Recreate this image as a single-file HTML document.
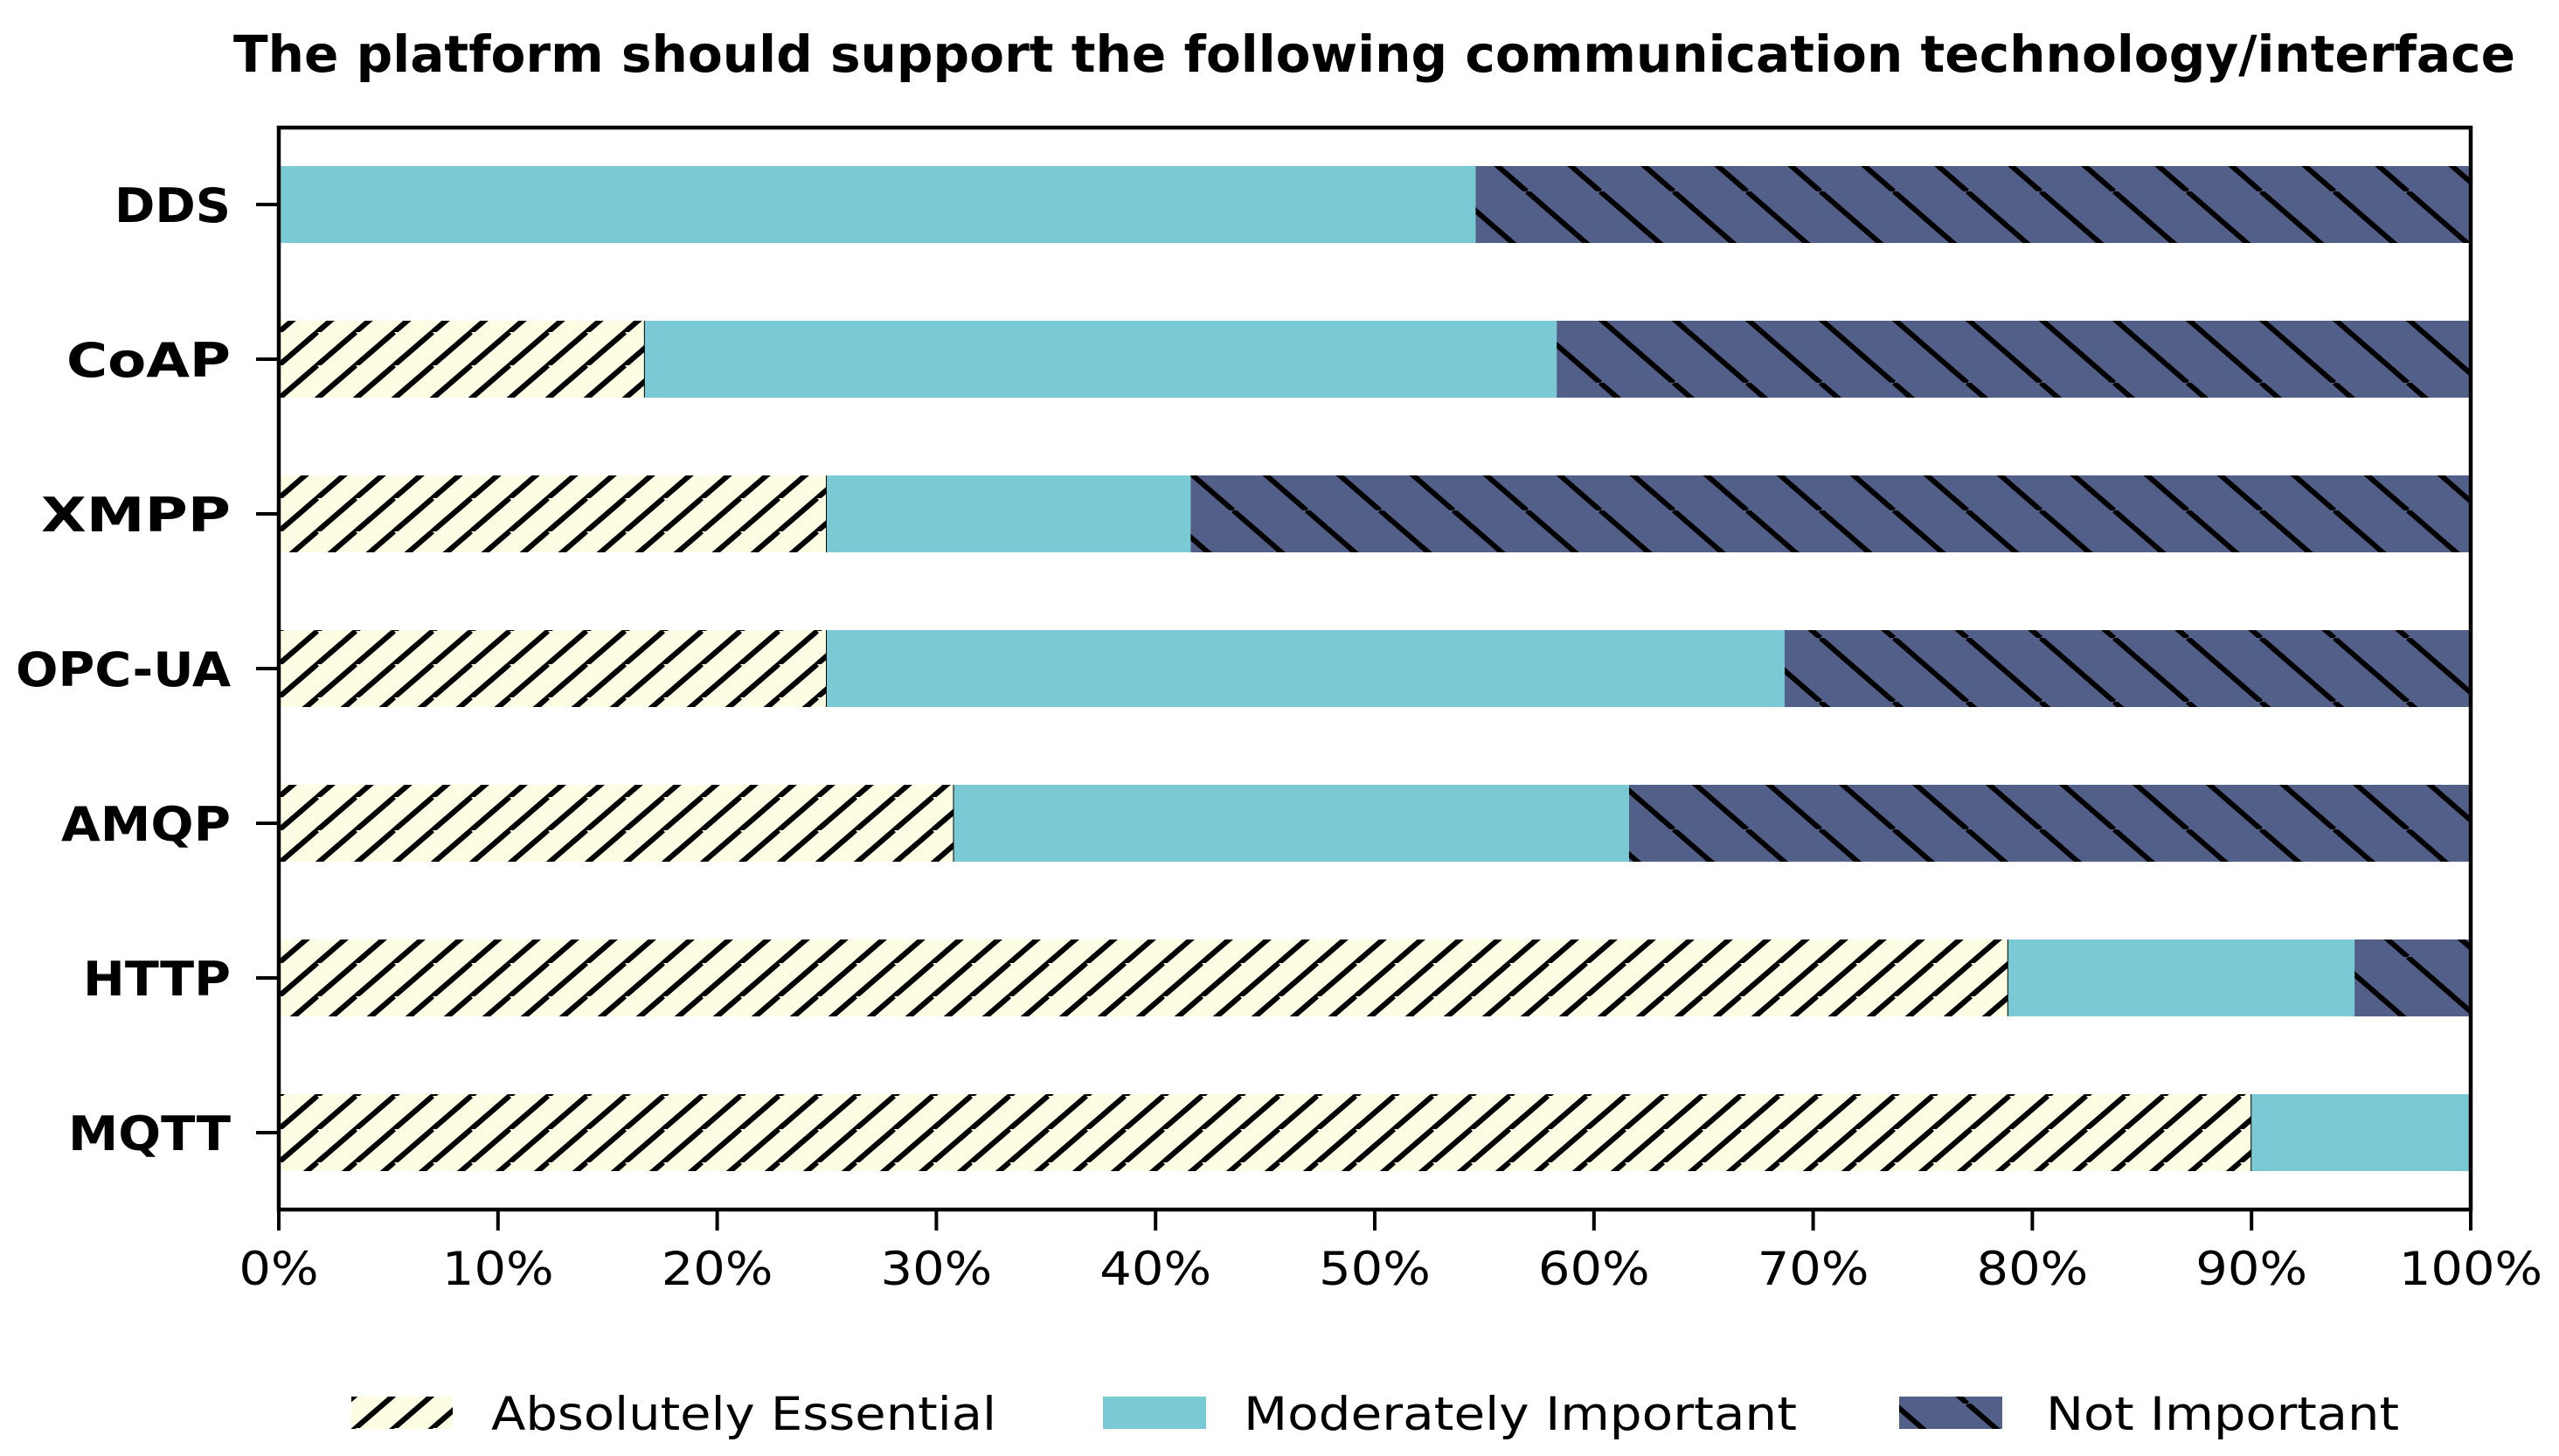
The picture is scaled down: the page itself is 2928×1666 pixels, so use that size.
<!DOCTYPE html>
<html><head><meta charset="utf-8">
<style>html,body{margin:0;padding:0;background:#fff;}svg{display:block;}</style>
</head><body>
<svg id="chart" width="2928" height="1666" viewBox="0 0 2928 1666" xmlns="http://www.w3.org/2000/svg" font-family="'DejaVu Sans','Liberation Sans',sans-serif">
<defs>
  <pattern id="hatchFwd" patternUnits="userSpaceOnUse" width="44" height="38" patternTransform="translate(319,0)">
    <rect width="44" height="38" fill="#fdfde3"/>
    <line x1="-44" y1="76" x2="44" y2="0" stroke="#000" stroke-width="6"/>
    <line x1="0" y1="38" x2="44" y2="0" stroke="#000" stroke-width="6"/>
    <line x1="0" y1="76" x2="88" y2="0" stroke="#000" stroke-width="6"/>
    <line x1="-44" y1="38" x2="0" y2="0" stroke="#000" stroke-width="6"/>
  </pattern>
  <pattern id="hatchBack" patternUnits="userSpaceOnUse" width="84" height="73" patternTransform="translate(319,0)">
    <rect width="84" height="73" fill="#525f88"/>
    <line x1="0" y1="0" x2="84" y2="73" stroke="#000" stroke-width="6"/>
    <line x1="-84" y1="0" x2="0" y2="73" stroke="#000" stroke-width="6"/>
    <line x1="84" y1="0" x2="168" y2="73" stroke="#000" stroke-width="6"/>
  </pattern>
</defs>
<text x="267" y="82" font-size="58" font-weight="bold" textLength="2611" lengthAdjust="spacingAndGlyphs">The platform should support the following communication technology/interface</text>
<g id="bars"></g>
<g id="axes"></g>
<g id="legend"></g>
</svg>
<script>
const categories = ["DDS","CoAP","XMPP","OPC-UA","AMQP","HTTP","MQTT"];
const essential = [0, 16.7, 25, 25, 30.8, 78.9, 90];
const moderate = [54.6, 41.6, 16.6, 43.7, 30.8, 15.8, 10];
const notImportant = [45.4, 41.7, 58.4, 31.3, 38.4, 5.3, 0];
const xTicks = [0,10,20,30,40,50,60,70,80,90,100];
const seriesNames = ["Absolutely Essential","Moderately Important","Not Important"];

const NS = "http://www.w3.org/2000/svg";
const L = 319, R = 2827, T = 146, B = 1384;
const xScale = v => L + (R - L) * v / 100;
const step = 177, firstCenter = 234, barH = 88;
const yScale = i => firstCenter + i * step;
function mk(tag, attrs, parent){ const e=document.createElementNS(NS,tag); for(const k in attrs) e.setAttribute(k,attrs[k]); parent.appendChild(e); return e; }
const fills = ["url(#hatchFwd)","#7acad5","url(#hatchBack)"];
const series = [essential, moderate, notImportant];
const gb = document.getElementById('bars');
categories.forEach((c,i)=>{
  let acc = 0;
  series.forEach((s,si)=>{
    const v = s[i];
    if (v > 0) {
      const r = mk('rect',{x:xScale(acc),y:yScale(i)-barH/2,width:xScale(acc+v)-xScale(acc),height:barH,fill:fills[si]},gb);
      
      
      if (si !== 1) {
        const ed = mk('line',{x1:xScale(acc+v),y1:yScale(i)-barH/2,x2:xScale(acc+v),y2:yScale(i)+barH/2,stroke:'#000','stroke-width':2},gb);
        
        
      }
    }
    acc += v;
  });
});
const ga = document.getElementById('axes');
const frame = mk('rect',{x:L,y:T,width:R-L,height:B-T,fill:'none',stroke:'#000','stroke-width':4.5},ga);


const w = ch => ch==='%'?0.95:0.636;
xTicks.forEach(t=>{
  const x = xScale(t);
  const tk = mk('line',{x1:x,y1:B,x2:x,y2:B+24,stroke:'#000','stroke-width':4},ga);
  
  
  const s = t + '%';
  const len = [...s].reduce((a,ch)=>a+w(ch),0)*50*1.15;
  const tx = mk('text',{x:x-len/2,y:1470,'font-size':53,textLength:len,lengthAdjust:'spacingAndGlyphs'},ga);
  tx.textContent = s;
  
  
});
const ylw = {"DDS":133,"CoAP":188,"XMPP":217,"OPC-UA":246,"AMQP":194,"HTTP":169,"MQTT":186};
categories.forEach((c,i)=>{
  const y = yScale(i);
  const tk = mk('line',{x1:L-26,y1:y,x2:L,y2:y,stroke:'#000','stroke-width':4},ga);
  
  
  const tx = mk('text',{x:264-ylw[c],y:y+20,'font-size':54,'font-weight':'bold',textLength:ylw[c],lengthAdjust:'spacingAndGlyphs'},ga);
  tx.textContent = c;
  
  
});
const gl = document.getElementById('legend');
const lx = [[402,518,562,1140],[1262,1380,1423,2056],[2173,2291,2341,2745]];
seriesNames.forEach((n,si)=>{
  const p = mk('rect',{x:lx[si][0],y:1598,width:lx[si][1]-lx[si][0],height:37,fill:fills[si]},gl);
  
  
  const t = mk('text',{x:lx[si][2],y:1636,'font-size':53,textLength:lx[si][3]-lx[si][2],lengthAdjust:'spacingAndGlyphs'},gl);
  t.textContent = n;
  
  
});
</script>
</body></html>
